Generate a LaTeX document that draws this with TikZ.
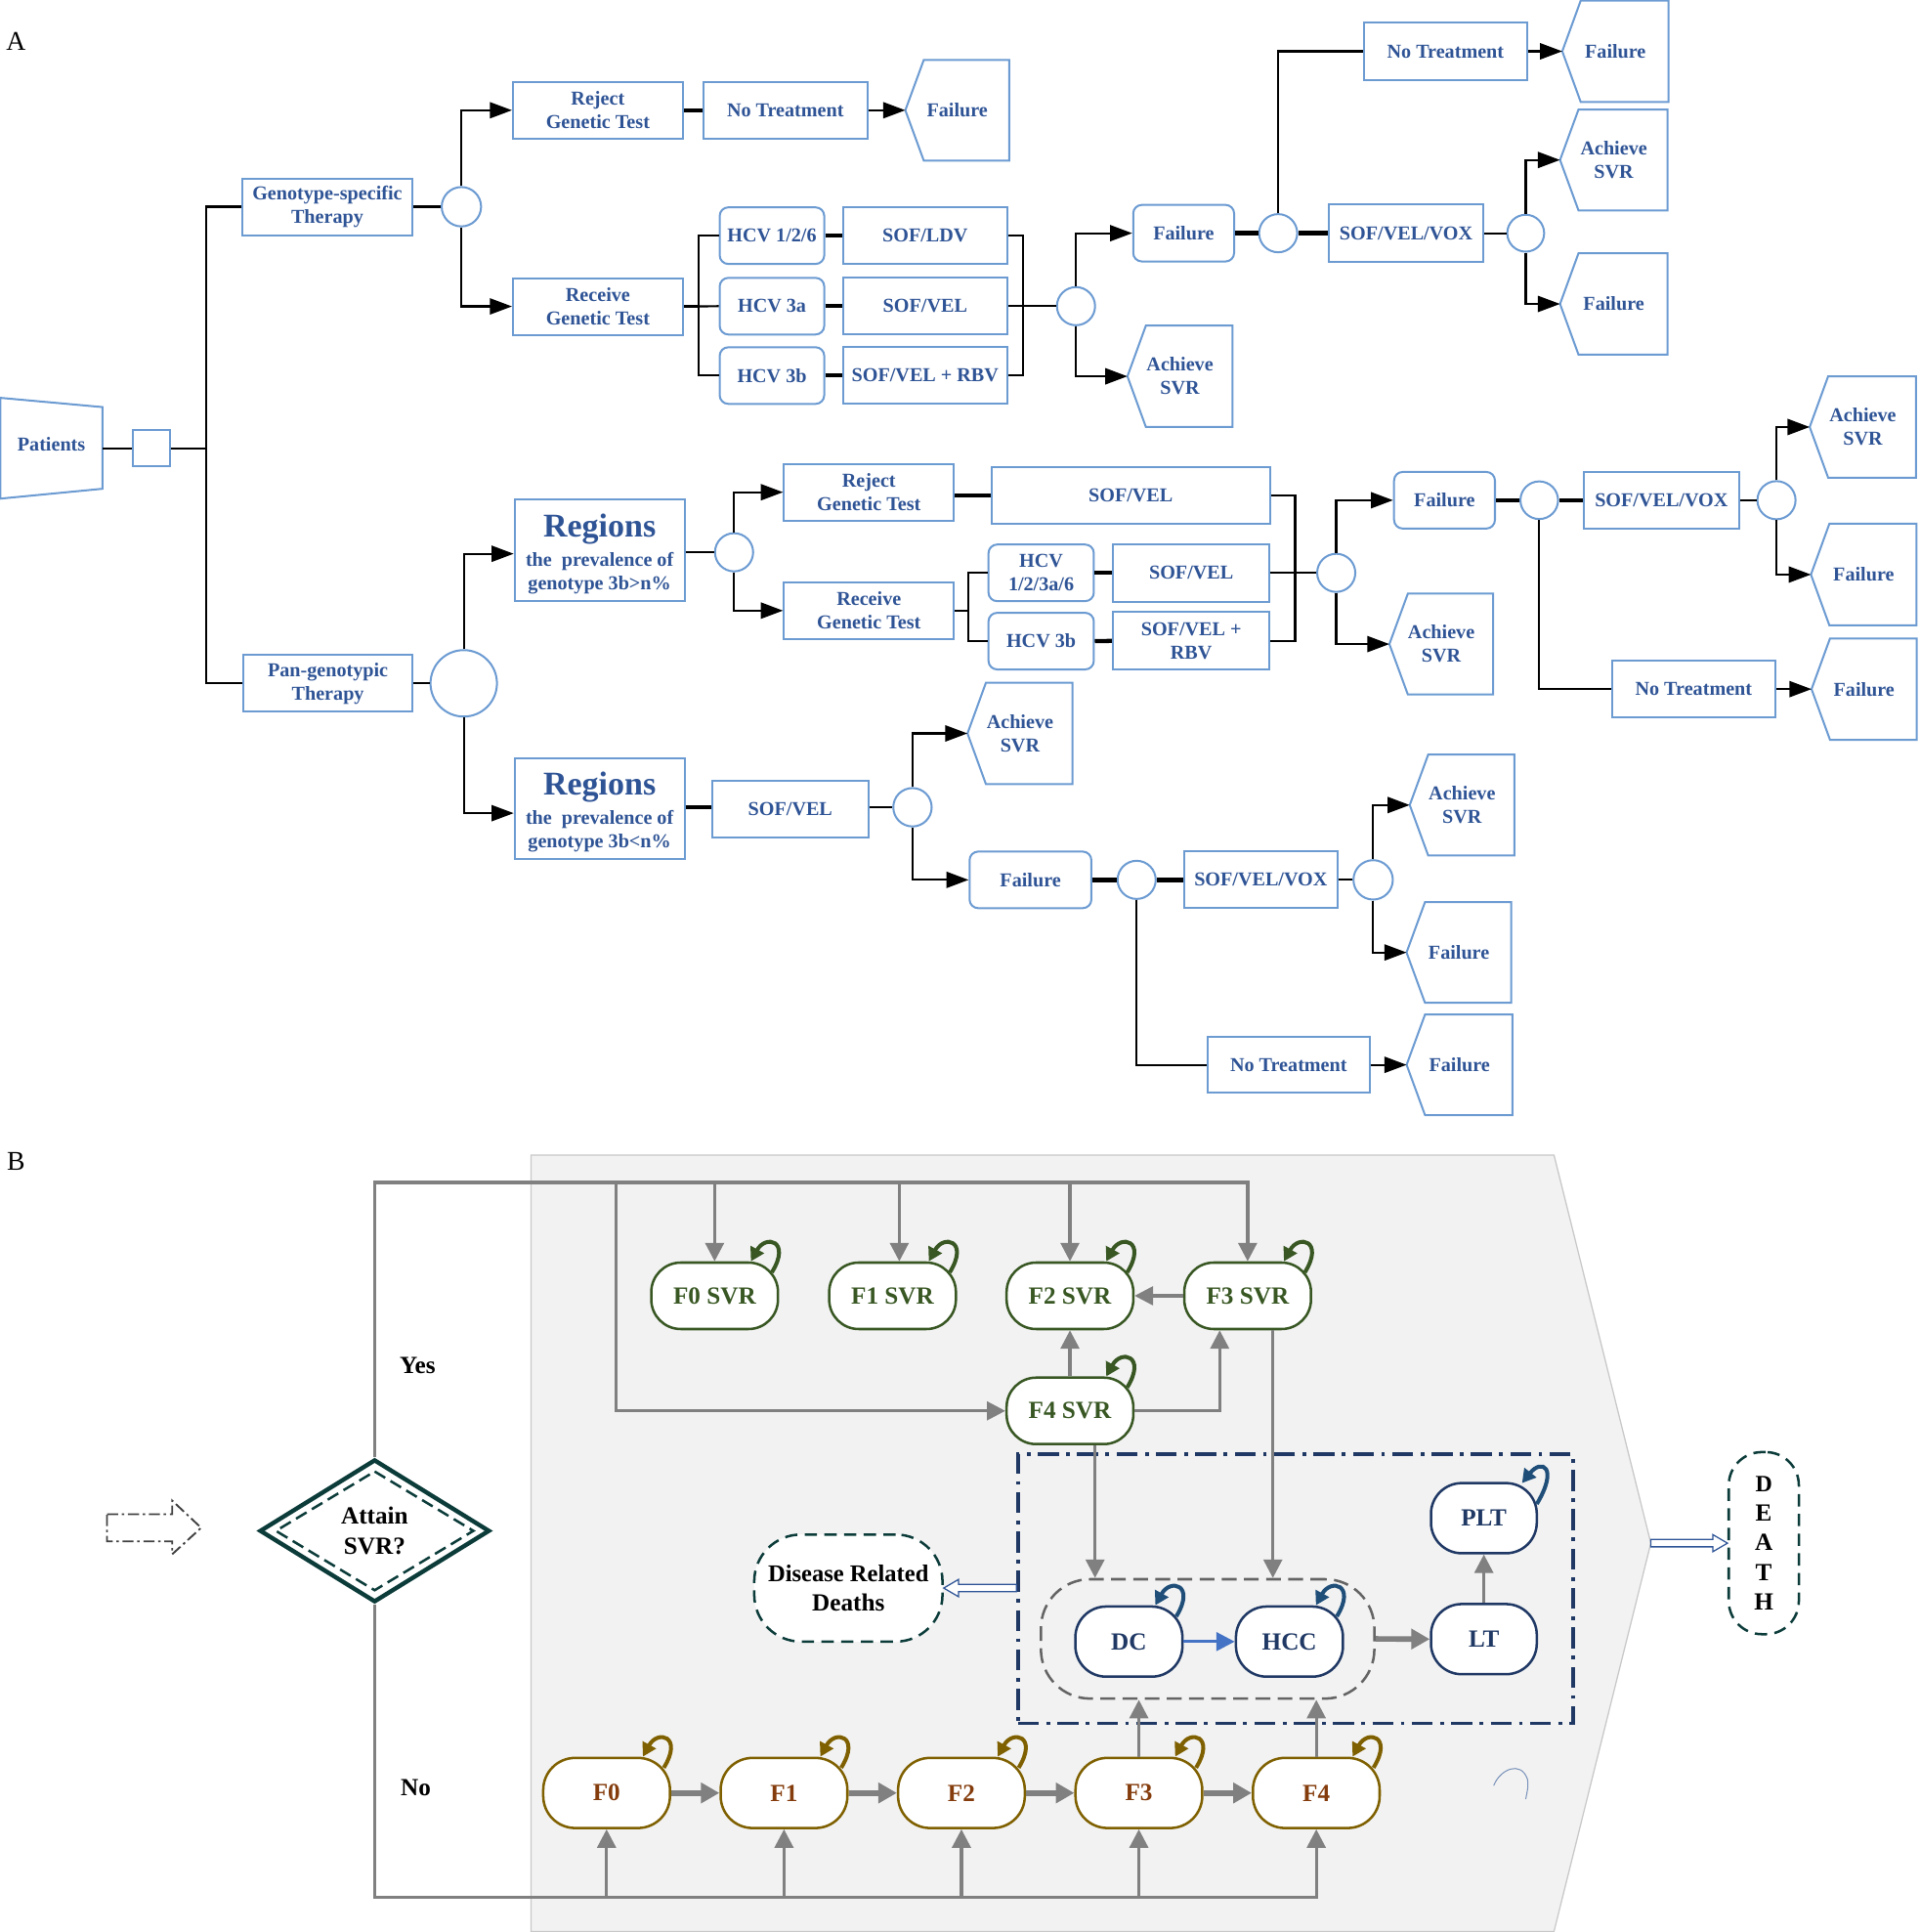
\documentclass[tikz,border=0pt]{standalone}
\usepackage{fontspec}
\setmainfont{Liberation Serif}
\usetikzlibrary{arrows.meta,calc,shapes.geometric}
\definecolor{aText}{RGB}{47,84,150}
\definecolor{aBorder}{RGB}{108,155,210}
\definecolor{gGreen}{RGB}{56,87,35}
\definecolor{gBrown}{RGB}{132,60,12}
\definecolor{gGold}{RGB}{127,96,0}
\definecolor{gNavy}{RGB}{31,56,100}
\definecolor{gLoopN}{RGB}{31,78,121}
\definecolor{gGray}{RGB}{128,128,128}
\definecolor{gTeal}{RGB}{12,60,58}
\definecolor{gBlue}{RGB}{68,114,196}
\definecolor{hollowC}{RGB}{47,85,151}
\definecolor{bgFill}{RGB}{242,242,242}
\definecolor{bgLine}{RGB}{200,200,200}
\definecolor{strayC}{RGB}{120,145,185}
\definecolor{dgrpC}{RGB}{100,100,100}
\newcommand\fntA{\fontsize{16}{19}\selectfont\bfseries}
\newcommand\fntB{\fontsize{20}{24}\selectfont\bfseries}
\newcommand\pentdraw[1]{\draw[pentline] (#1.west) -- ([xshift=15pt]#1.north west) -- (#1.north east) -- (#1.south east) -- ([xshift=15pt]#1.south west) -- cycle;}
\newcommand\slp[2]{\draw[#1] ([shift={(-6pt,-9pt)}]#2.north east) .. controls +(16pt,26pt) and +(12pt,22pt) .. ([shift={(-23pt,0pt)}]#2.north east);}
\newcommand\hollowL[2]{\draw[hollow] ($(#1)+(0pt,3pt)$) -- ($(#2)+(12pt,3pt)$) -- ($(#2)+(12pt,7pt)$) -- (#2) -- ($(#2)+(12pt,-7pt)$) -- ($(#2)+(12pt,-3pt)$) -- ($(#1)+(0pt,-3pt)$) -- cycle;}
\newcommand\hollowR[2]{\draw[hollow] ($(#1)+(0pt,3pt)$) -- ($(#2)+(-12pt,3pt)$) -- ($(#2)+(-12pt,7pt)$) -- (#2) -- ($(#2)+(-12pt,-7pt)$) -- ($(#2)+(-12pt,-3pt)$) -- ($(#1)+(0pt,-3pt)$) -- cycle;}
\begin{document}
\begin{tikzpicture}[x=1pt,y=-1pt,
  cl/.style={line width=1.7pt, black},
  ck/.style={line width=3.4pt, black},
  ar/.style={cl, -{Triangle[length=18pt,width=13pt]}},
  abox/.style={draw=aBorder, line width=1.6pt, text=aText, font=\fntA, align=center, inner sep=0pt, fill=white},
  arnd/.style={abox, rounded corners=7pt},
  apent/.style={text=aText, font=\fntA, align=center, inner sep=0pt},
  pentline/.style={draw=aBorder, line width=1.6pt},
  acirc/.style={circle, draw=aBorder, line width=1.6pt, inner sep=0pt, fill=white},
  gl/.style={draw=gGray, line width=2.6pt},
  garr/.style={gl, -{Triangle[length=15pt,width=15pt]}},
  garrT/.style={draw=gGray, line width=4.5pt, -{Triangle[length=15pt,width=16pt]}},
  barr/.style={draw=gBlue, line width=2.6pt, -{Triangle[length=15pt,width=15pt]}},
  svr/.style={draw=gGreen, text=gGreen, fill=white, line width=2pt, rounded corners=24pt, minimum width=103pt, minimum height=54pt, inner sep=0pt, font=\fntB},
  fst/.style={svr, draw=gGold, text=gBrown, minimum height=57pt, rounded corners=26pt},
  nv/.style={svr, draw=gNavy, text=gNavy, minimum width=87pt, minimum height=57pt, rounded corners=25pt},
  loopG/.style={draw=gGreen, line width=3.2pt, -{Triangle[length=11pt,width=12pt]}},
  loopB/.style={draw=gGold, line width=3.2pt, -{Triangle[length=11pt,width=12pt]}},
  loopN/.style={draw=gLoopN, line width=3.2pt, -{Triangle[length=11pt,width=12pt]}},
  hollow/.style={draw=hollowC, line width=1pt, fill=white},
  bl/.style={font=\fntB, text=black, align=center, inner sep=0pt}
]
\useasboundingbox (0,0) rectangle (1560,1570);

% ================= Panel A =================
\node[inner sep=0pt] (labA) at (13,34) {\fontsize{22}{22}\selectfont A};

\node[apent, minimum width=82.5pt, minimum height=81.5pt] (pat) at (41.75,361) {Patients};
\draw[pentline] ([yshift=-3.25pt]pat.north west) -- ([yshift=-10.75pt]pat.north east) -- ([yshift=4.75pt]pat.south east) -- ([yshift=-3.25pt]pat.south west) -- cycle;
\node[abox, minimum width=30pt, minimum height=29pt] (sq) at (123,364.25) {};
\coordinate (tr) at (167.3,364.25);

\node[abox, minimum width=138pt, minimum height=46pt] (gs) at (266,168) {Genotype-specific\\Therapy};
\node[abox, minimum width=138pt, minimum height=46pt] (pg) at (266.5,555.3) {Pan-genotypic\\Therapy};
\node[acirc, minimum size=32pt] (c1) at (375,168) {};
\node[acirc, minimum size=54pt] (c2) at (376.9,555.3) {};

\node[abox, minimum width=138pt, minimum height=46pt] (rej1) at (485.9,89.6) {Reject\\Genetic Test};
\node[abox, minimum width=133pt, minimum height=46pt] (nt1) at (638.3,89.6) {No Treatment};
\node[apent, minimum width=84pt, minimum height=81.5pt] (pf1) at (778,89.6) {Failure};
\node[abox, minimum width=138pt, minimum height=46pt] (rec1) at (485.9,249) {Receive\\Genetic Test};
\node[arnd, minimum width=85pt, minimum height=46pt] (hcv126) at (627.4,191.5) {HCV 1/2/6};
\node[arnd, minimum width=85pt, minimum height=46pt] (hcv3a) at (627.4,248.8) {HCV 3a};
\node[arnd, minimum width=85pt, minimum height=46pt] (hcv3b) at (627.4,305.2) {HCV 3b};
\node[abox, minimum width=133pt, minimum height=46pt] (sofldv) at (751.9,191.5) {SOF/LDV};
\node[abox, minimum width=133pt, minimum height=46pt] (sofvel1) at (751.9,248.8) {SOF/VEL};
\node[abox, minimum width=133pt, minimum height=46pt] (sofrbv1) at (751.9,305.2) {SOF/VEL + RBV};
\coordinate (bl1) at (567.5,0);
\coordinate (br1) at (831.3,0);
\node[acirc, minimum size=31pt] (c3) at (874.5,248.8) {};
\node[arnd, minimum width=82pt, minimum height=46pt] (fail1) at (962,189.5) {Failure};
\node[apent, minimum width=85pt, minimum height=82pt] (ach1) at (959,305.8) {Achieve\\SVR};
\node[acirc, minimum size=31pt] (c4) at (1038.8,189.5) {};
\node[abox, minimum width=126pt, minimum height=46.6pt] (vox1) at (1142.8,189.5) {SOF/VEL/VOX};
\node[acirc, minimum size=30pt] (c5) at (1240,189.5) {};
\node[abox, minimum width=132.4pt, minimum height=46.4pt] (nt2) at (1174.8,41.7) {No Treatment};
\node[apent, minimum width=86pt, minimum height=82pt] (pf2) at (1312.9,41.7) {Failure};
\node[apent, minimum width=87pt, minimum height=81.6pt] (ach2) at (1311.6,130) {Achieve\\SVR};
\node[apent, minimum width=87pt, minimum height=82pt] (pf3) at (1311.6,247) {Failure};

\node[abox, minimum width=138pt, minimum height=82pt] (reg1) at (487.3,447) {};
\node[apent] (reg1t) at ([yshift=-3pt]reg1.center) {{\fontsize{27}{27}\selectfont Regions}\\[5pt]the~~prevalence of\\genotype 3b>n\%};
\node[abox, minimum width=138pt, minimum height=81.6pt] (reg2) at (487.3,657.1) {};
\node[apent] (reg2t) at ([yshift=-3pt]reg2.center) {{\fontsize{27}{27}\selectfont Regions}\\[5pt]the~~prevalence of\\genotype 3b<n\%};
\node[acirc, minimum size=31pt] (c6) at (596.6,448.8) {};
\node[abox, minimum width=138pt, minimum height=46pt] (rej2) at (706.2,400) {Reject\\Genetic Test};
\node[abox, minimum width=138pt, minimum height=46.5pt] (rec2) at (706.2,496.2) {Receive\\Genetic Test};
\node[abox, minimum width=226pt, minimum height=46pt] (sofvel2) at (919,402.4) {SOF/VEL};
\node[arnd, minimum width=85.6pt, minimum height=46pt] (hcv12) at (846.2,465.5) {HCV\\1/2/3a/6};
\node[arnd, minimum width=85.6pt, minimum height=46pt] (hcv3b2) at (846.2,521) {HCV 3b};
\node[abox, minimum width=127.5pt, minimum height=46.7pt] (sofvel3) at (968.2,465.5) {SOF/VEL};
\node[abox, minimum width=127.5pt, minimum height=46.7pt] (sofrbv2) at (968.2,520.8) {SOF/VEL +\\RBV};
\coordinate (bl2) at (787,0);
\coordinate (br2) at (1052.6,0);
\node[acirc, minimum size=31pt] (c7) at (1086,465.5) {};
\node[arnd, minimum width=82pt, minimum height=46pt] (fail2) at (1174,406.5) {Failure};
\node[apent, minimum width=84pt, minimum height=81.6pt] (ach3) at (1171.4,523.4) {Achieve\\SVR};
\node[acirc, minimum size=30.6pt] (c8) at (1251,406.5) {};
\node[abox, minimum width=126.6pt, minimum height=46pt] (vox2) at (1350.3,406.5) {SOF/VEL/VOX};
\node[acirc, minimum size=31pt] (c9) at (1443.8,406.5) {};
\node[apent, minimum width=86pt, minimum height=82pt] (ach4) at (1514,347) {Achieve\\SVR};
\node[apent, minimum width=85.4pt, minimum height=82.2pt] (pf4) at (1514.7,466.9) {Failure};
\node[abox, minimum width=133pt, minimum height=46pt] (nt3) at (1376.5,560) {No Treatment};
\node[apent, minimum width=85pt, minimum height=82pt] (pf5) at (1515,560) {Failure};

\node[abox, minimum width=126.6pt, minimum height=46pt] (sofvel4) at (642.3,657.5) {SOF/VEL};
\node[acirc, minimum size=31.2pt] (c10) at (741.6,656) {};
\node[apent, minimum width=85pt, minimum height=82pt] (ach5) at (829,596) {Achieve\\SVR};
\node[arnd, minimum width=99pt, minimum height=46pt] (fail3) at (837.5,715) {Failure};
\node[acirc, minimum size=31pt] (c11) at (923.8,715) {};
\node[abox, minimum width=124.3pt, minimum height=46pt] (vox3) at (1024.7,715) {SOF/VEL/VOX};
\node[acirc, minimum size=32pt] (c12) at (1116,715) {};
\node[apent, minimum width=84.7pt, minimum height=81.6pt] (ach6) at (1188.3,654.2) {Achieve\\SVR};
\node[apent, minimum width=84.7pt, minimum height=81.5pt] (pf6) at (1185.7,774) {Failure};
\node[abox, minimum width=131.4pt, minimum height=45.7pt] (nt4) at (1047.3,865.3) {No Treatment};
\node[apent, minimum width=85.6pt, minimum height=81.5pt] (pf7) at (1186.2,865.3) {Failure};

\foreach \n in {pf1,ach1,pf2,ach2,pf3,ach3,ach4,pf4,pf5,ach5,ach6,pf6,pf7} {\pentdraw{\n}}

% connectors A
\draw[cl] (sq.west -| pat.east) -- (sq.west);
\draw[cl] (sq.east) -- (tr);
\draw[cl] (gs.west) -| (tr) |- (pg.west);
\draw[cl] (gs.east) -- (c1.west);
\draw[ar] (c1.north) |- (rej1.west);
\draw[ar] (c1.south) |- (rec1.west);
\draw[ck] (rej1.east) -- (nt1.west);
\draw[ar] (nt1.east) -- (pf1.west);
\draw[cl] (hcv126.west) -- (hcv126.west -| bl1) |- (hcv3b.west);
\draw[cl] (rec1.east -| bl1) -- (hcv3a.west);
\draw[cl] (rec1.east) -- (rec1.east -| bl1);
\draw[ck] (hcv126.east) -- (sofldv.west);
\draw[ck] (hcv3a.east) -- (sofvel1.west);
\draw[ck] (hcv3b.east) -- (sofrbv1.west);
\draw[cl] (sofldv.east) -- (sofldv.east -| br1) |- (sofrbv1.east);
\draw[cl] (sofvel1.east) -- (c3.west);
\draw[ar] (c3.north) |- (fail1.west);
\draw[ar] (c3.south) |- (ach1.west);
\draw[ck] (fail1.east) -- (c4.west);
\draw[ck] (c4.east) -- (vox1.west);
\draw[cl] (c4.north) |- (nt2.west);
\draw[ar] (nt2.east) -- (pf2.west);
\draw[cl] (vox1.east) -- (c5.west);
\draw[ar] (c5.north) |- (ach2.west);
\draw[ar] (c5.south) |- (pf3.west);

\draw[cl] (pg.east) -- (c2.west);
\coordinate (r1in) at ([yshift=-3pt]reg1.west);
\coordinate (r2in) at ([yshift=-3.7pt]reg2.west);
\draw[ar] (c2.north) |- (r1in);
\draw[ar] (c2.south) |- (r2in);
\draw[cl] (c6.west -| reg1.east) -- (c6.west);
\draw[ar] (c6.north) |- (rej2.west);
\draw[ar] (c6.south) |- (rec2.west);
\draw[ck] (sofvel2.west -| rej2.east) -- (sofvel2.west);
\draw[cl] (hcv12.west) -- (hcv12.west -| bl2) |- (hcv3b2.west);
\draw[cl] (rec2.east) -- (rec2.east -| bl2);
\draw[ck] (hcv12.east) -- (sofvel3.west);
\draw[ck] (hcv3b2.east) -- (sofrbv2.west);
\draw[cl] (sofvel2.east) -- (sofvel2.east -| br2) |- (sofrbv2.east);
\draw[cl] (sofvel3.east) -- (c7.west);
\draw[ar] (c7.north) |- (fail2.west);
\draw[ar] (c7.south) |- (ach3.west);
\draw[ck] (fail2.east) -- (c8.west);
\draw[ck] (c8.east) -- (vox2.west);
\draw[cl] (vox2.east) -- (c9.west);
\draw[ar] (c9.north) |- (ach4.west);
\draw[ar] (c9.south) |- (pf4.west);
\draw[cl] (c8.south) |- (nt3.west);
\draw[ar] (nt3.east) -- (pf5.west);

\draw[ck] (c10.west -| reg2.east) -- (c10.west -| sofvel4.west);
\draw[cl] (c10.west -| sofvel4.east) -- (c10.west);
\draw[ar] (c10.north) |- (ach5.west);
\draw[ar] (c10.south) |- (fail3.west);
\draw[ck] (fail3.east) -- (c11.west);
\draw[ck] (c11.east) -- (vox3.west);
\draw[cl] (vox3.east) -- (c12.west);
\draw[ar] (c12.north) |- (ach6.west);
\draw[ar] (c12.south) |- (pf6.west);
\draw[cl] (c11.south) |- (nt4.west);
\draw[ar] (nt4.east) -- (pf7.west);

% ================= Panel B =================
\node[inner sep=0pt] (labB) at (13,944) {\fontsize{22}{22}\selectfont B};
\filldraw[fill=bgFill, draw=bgLine, line width=1pt] (431.6,938.6) -- (1263,938.6) -- (1341.7,1254) -- (1263,1569.5) -- (431.6,1569.5) -- cycle;
\coordinate (bgtip) at (1341.7,1254);

% dashed block arrow
\draw[draw=black!75, line width=1.5pt, dash pattern=on 9pt off 3pt on 2pt off 3pt] (87,1230.5) -- (140,1230.5) -- (140,1219.5) -- (163.5,1241.5) -- (140,1263) -- (140,1252.5) -- (87,1252.5) -- cycle;

\node[diamond, draw=gTeal, line width=3.5pt, minimum width=187pt, minimum height=116pt, inner sep=0pt, aspect=1.6, fill=white, bl] (dia) at (304.5,1244) {Attain\\SVR?};
\draw[gTeal, line width=2pt, dash pattern=on 10pt off 5pt] ([yshift=-11.5pt]dia.north) -- ([xshift=-15pt]dia.east) -- ([yshift=11.5pt]dia.south) -- ([xshift=15pt]dia.west) -- cycle;
\node[bl] (yes) at (339.4,1110) {Yes};
\node[bl] (no) at (338,1452.6) {No};

\node[svr] (f0s) at (580.8,1053) {F0 SVR};
\node[svr] (f1s) at (725.4,1053) {F1 SVR};
\node[svr] (f2s) at (869.6,1053) {F2 SVR};
\node[svr] (f3s) at (1014,1053) {F3 SVR};
\node[svr] (f4s) at (869.6,1146.5) {F4 SVR};

\node[fst] (f0) at (493,1457) {F0};
\node[fst] (f1) at (637.2,1457) {F1};
\node[fst] (f2) at (781.4,1457) {F2};
\node[fst] (f3) at (925.6,1457) {F3};
\node[fst] (f4) at (1069.8,1457) {F4};

\node[draw=gNavy, line width=3pt, dash pattern=on 17pt off 6pt on 3pt off 6pt, minimum width=451pt, minimum height=219pt, inner sep=0pt] (box) at (1053,1291) {};
\node[draw=dgrpC, line width=2pt, dash pattern=on 12pt off 6pt, rounded corners=40pt, minimum width=271pt, minimum height=97pt, inner sep=0pt] (dgrp) at (981.5,1331.8) {};
\node[nv] (dc) at (917.5,1334) {DC};
\node[nv] (hcc) at (1048,1334) {HCC};
\node[nv, minimum width=86pt] (lt) at (1206,1332) {LT};
\node[nv, minimum width=86pt] (plt) at (1206,1233.7) {PLT};

\node[draw=gTeal, line width=2pt, dash pattern=on 10pt off 6pt, rounded corners=38pt, fill=white, minimum width=153pt, minimum height=87pt, bl] (drd) at (689.5,1290.5) {\fontsize{19.5}{24}\selectfont Disease Related\\Deaths};
\node[draw=gTeal, line width=2pt, dash pattern=on 10pt off 6pt, rounded corners=27pt, fill=white, minimum width=57pt, minimum height=148pt, bl] (death) at (1433.5,1254) {\fontsize{19}{24}\selectfont D\\E\\A\\T\\H};

% loop lines
\coordinate (top) at (304.5,960.8);
\coordinate (bot) at (304.5,1541.7);
\coordinate (ybr) at (500.5,960.8);
\coordinate (f1in) at ([xshift=5.5pt]f1s.north);
\coordinate (f3in) at ([xshift=-22.7pt]f3s.south);
\coordinate (f4out) at ([xshift=20.4pt]f4s.south);
\coordinate (f3out) at ([xshift=20.5pt]f3s.south);
\draw[garr] (dia.north) -- (top) -| (f3s.north);
\draw[garr] (top -| f0s.north) -- (f0s.north);
\draw[garr] (top -| f1in) -- (f1in);
\draw[garr] (top -| f2s.north) -- (f2s.north);
\draw[garr] (ybr) |- (f4s.west);
\draw[garr] (f3s.west) -- (f2s.east);
\draw[garr] (f4s.north) -- (f2s.south);
\draw[garr] (f4s.east) -| (f3in);
\draw[garr] (f4out) -- (f4out |- dgrp.north);
\draw[garr] (f3out) -- (f3out |- dgrp.north);
\draw[garr] (dia.south) -- (bot) -| (f4.south);
\draw[garr] (bot -| f0.south) -- (f0.south);
\draw[garr] (bot -| f1.south) -- (f1.south);
\draw[garr] (bot -| f2.south) -- (f2.south);
\draw[garr] (bot -| f3.south) -- (f3.south);
\draw[garrT] (f0.east) -- (f1.west);
\draw[garrT] (f1.east) -- (f2.west);
\draw[garrT] (f2.east) -- (f3.west);
\draw[garrT] (f3.east) -- (f4.west);
\draw[garr] (f3.north) -- (f3.north |- dgrp.south);
\draw[garr] (f4.north) -- (f4.north |- dgrp.south);
\draw[barr] (dc.east) -- (hcc.west);
\draw[garrT] (dgrp.east) -- (lt.west);
\draw[garr] (lt.north) -- (plt.south);

% self loops
\foreach \n in {f0s,f1s,f2s,f3s,f4s} {\slp{loopG}{\n}}
\foreach \n in {f0,f1,f2,f3,f4} {\slp{loopB}{\n}}
\foreach \n in {dc,hcc} {\slp{loopN}{\n}}
\draw[loopN] ([shift={(-1pt,-18pt)}]plt.north east) .. controls +(18pt,30pt) and +(16pt,20pt) .. ([shift={(-13pt,-1pt)}]plt.north east);

% hollow arrows
\coordinate (h1s) at (box.west |- drd.east);
\hollowL{h1s}{drd.east}
\hollowR{bgtip}{death.west}

% stray arc
\draw[strayC, line width=0.8pt] (1214,1451) .. controls (1219,1438) and (1236,1430) .. (1241.5,1446) .. controls (1242,1452) .. (1240,1462);
\end{tikzpicture}
\end{document}
